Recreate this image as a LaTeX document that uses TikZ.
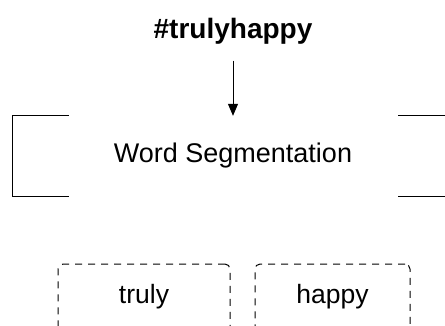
\documentclass[tikz,border=0pt]{standalone}
\usepackage{fontspec}
\setmainfont{Liberation Sans}
\usetikzlibrary{arrows.meta,positioning}

\begin{document}
\begin{tikzpicture}[x=1pt, y=-1pt,
        tagtext/.style={font=\fontsize{28}{32}\selectfont\bfseries},
        segbox/.style={minimum width=440pt, minimum height=80pt, inner sep=0pt, font=\fontsize{27}{32}\selectfont},
        partbox/.style={draw, dashed, dash pattern=on 7pt off 6pt, rounded corners=5pt, line width=1pt,
            anchor=base, inner sep=0pt, text height=39pt, text depth=50pt, font=\fontsize{26.5}{32}\selectfont},
        bracket/.style={line width=1pt},
        flow/.style={line width=1pt, -{Triangle[width=10pt,length=12pt]}}]

            \clip (0,0) rectangle (445,325);

            \node[tagtext] (tag) at (233,31) {\#trulyhappy} ;
            \node[segbox] (seg) at (233,156) {Word Segmentation} ;
            \node[partbox, minimum width=172pt] (truly) at (144,303) {truly} ;
            \node[partbox, minimum width=155pt] (happy) at (332.5,303) {happy} ;

            \draw[flow, shorten <=13pt] (tag) -- (seg) ;

            \draw[bracket] ([xshift=56pt]seg.north west) -- (seg.north west) -- (seg.south west) -- ([xshift=56pt]seg.south west) ;
            \draw[bracket] ([xshift=-55pt]seg.north east) -- (seg.north east) ;
            \draw[bracket] ([xshift=-55pt]seg.south east) -- (seg.south east) ;

\end{tikzpicture}
\end{document}
